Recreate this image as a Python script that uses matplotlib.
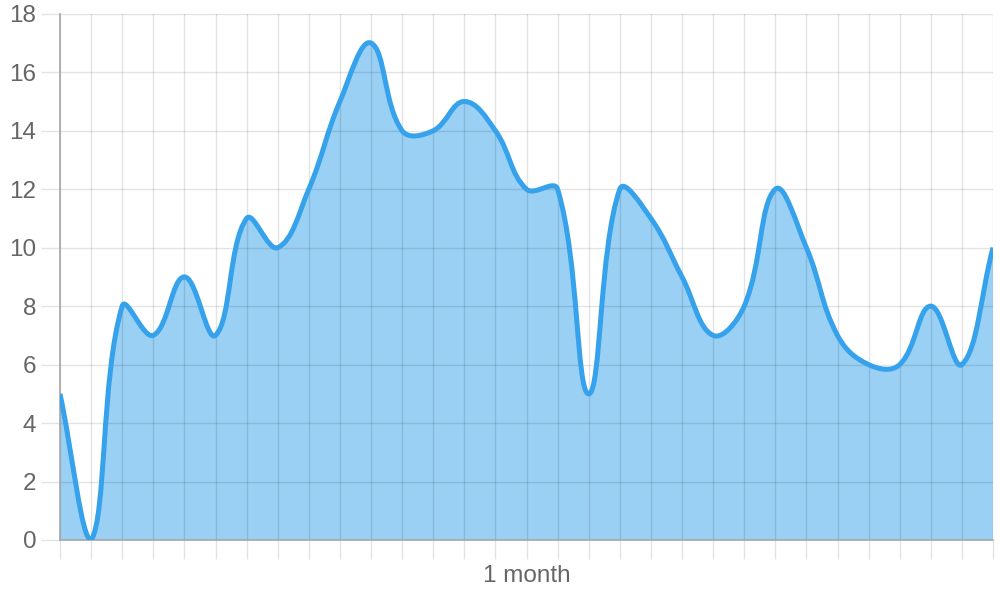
import numpy as np
import matplotlib
matplotlib.use("Agg")
import matplotlib.pyplot as plt
from matplotlib.path import Path
from matplotlib.patches import PathPatch

# daily values over one month
values = [5, 0, 8, 7, 9, 7, 11, 10, 12, 15, 17, 14, 14, 15, 14, 12,
          12, 5, 12, 11, 9, 7, 8, 12, 10, 7, 6, 6, 8, 6, 10]
days = list(range(len(values)))
tick_labels = ["" for _ in days]
tick_labels[15] = "1 month"

line_color = "#36a2eb"
fill_color = (54 / 255, 162 / 255, 235 / 255, 0.5)
text_color = "#666666"
tension = 0.4

plt.rcParams['font.family'] = ['Liberation Sans', 'DejaVu Sans']

fig = plt.figure(figsize=(10, 6), dpi=100)
ax = fig.add_axes([0.060, 0.100, 0.933, 0.877])
ax.set_xlim(0, len(values) - 1)
ax.set_ylim(0, 18)


def spline_points(xs, ys):
    # chart.js style bezier control points, computed in pixel space
    pts = ax.transData.transform(np.column_stack([xs, ys]))
    n = len(pts)
    cp_prev = np.zeros_like(pts)
    cp_next = np.zeros_like(pts)
    x0, y0 = ax.transData.transform((0, 0))
    x1, y1 = ax.transData.transform((xs[-1], 18))
    for i in range(n):
        prev = pts[max(i - 1, 0)]
        cur = pts[i]
        nxt = pts[min(i + 1, n - 1)]
        d01 = np.hypot(*(cur - prev))
        d12 = np.hypot(*(nxt - cur))
        tot = d01 + d12
        s01 = d01 / tot if tot else 0
        s12 = d12 / tot if tot else 0
        cp_prev[i] = cur - tension * s01 * (nxt - prev)
        cp_next[i] = cur + tension * s12 * (nxt - prev)
    for cp in (cp_prev, cp_next):
        cp[:, 0] = np.clip(cp[:, 0], x0, x1)
        cp[:, 1] = np.clip(cp[:, 1], y0, y1)
    inv = ax.transData.inverted()
    return inv.transform(pts), inv.transform(cp_prev), inv.transform(cp_next)


pts, cpp, cpn = spline_points(days, values)
verts = [pts[0]]
codes = [Path.MOVETO]
for i in range(1, len(pts)):
    verts += [cpn[i - 1], cpp[i], pts[i]]
    codes += [Path.CURVE4] * 3

line_path = Path(verts, codes)
fill_verts = verts + [(days[-1], 0), (days[0], 0), (days[0], 0)]
fill_codes = codes + [Path.LINETO, Path.LINETO, Path.CLOSEPOLY]
fill_path = Path(fill_verts, fill_codes)

ax.add_patch(PathPatch(fill_path, facecolor=fill_color, edgecolor="none", zorder=1))
ax.add_patch(PathPatch(line_path, facecolor="none", edgecolor=line_color,
                       linewidth=3.6, capstyle="butt", joinstyle="round", zorder=3))

ax.set_axisbelow(False)
ax.set_xticks(days)
ax.set_xticklabels(tick_labels)
ax.set_yticks(range(0, 19, 2))
ax.grid(True, color="black", alpha=0.11, linewidth=1.0)
ax.tick_params(axis="both", length=14, width=1.0, color="#e3e3e3",
               labelcolor=text_color, labelsize=17.5, pad=3)
ax.tick_params(axis="x", pad=4)

for side in ("top", "right"):
    ax.spines[side].set_visible(False)
for side in ("left", "bottom"):
    ax.spines[side].set_color("#a6a6a6")
    ax.spines[side].set_linewidth(1.2)
    ax.spines[side].set_zorder(2.6)

fig.savefig("out.png", dpi=100)
